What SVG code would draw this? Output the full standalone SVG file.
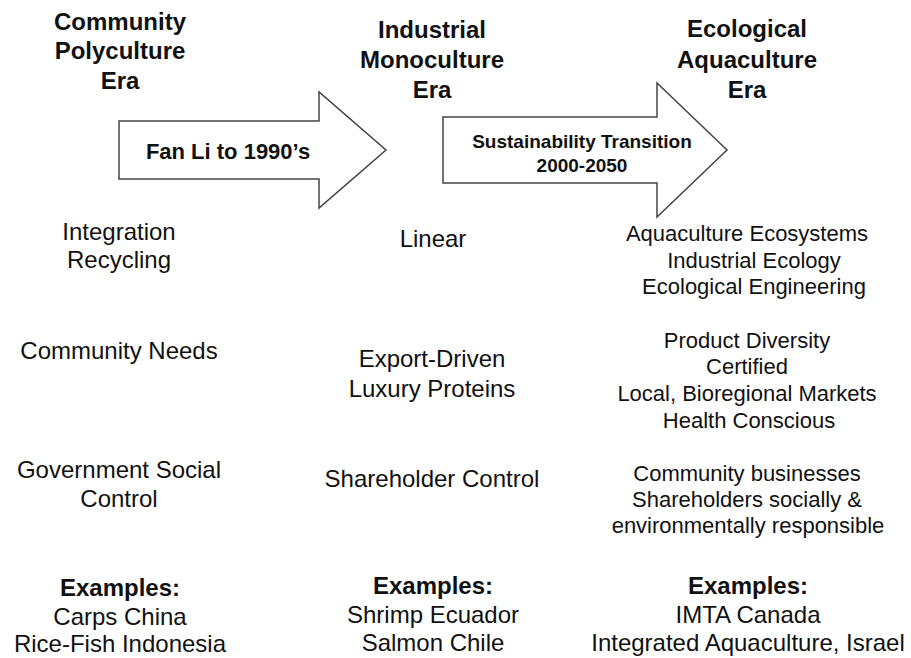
<svg xmlns="http://www.w3.org/2000/svg" width="911" height="658" viewBox="0 0 911 658">
<style>
text{font-family:"Liberation Sans",Arial,sans-serif;fill:#111;text-anchor:middle}
.h{font-weight:bold;font-size:24px}
.r{font-size:24px}
.s{font-size:22px}
.b{font-weight:bold}
.arrow{fill:#fff;stroke:#444;stroke-width:1.5;stroke-linejoin:miter}
</style>
<rect width="911" height="658" fill="#fff"/>
<g id="connectors">
  <g id="arrow1">
    <polygon class="arrow" points="119,121 319,121 319,92 386,150 319,208 319,179 119,179"/>
    <text class="b" x="228" y="159" style="font-size:22px">Fan Li to 1990’s</text>
  </g>
  <g id="arrow2">
    <polygon class="arrow" points="443,117 657,117 657,83 727,150 657,217 657,183 443,183"/>
    <text class="b" x="582" y="148" style="font-size:19px">Sustainability Transition</text>
    <text class="b" x="582" y="172" style="font-size:19px">2000-2050</text>
  </g>
</g>
<g id="era-community">
  <text class="h" x="120" y="30">Community</text>
  <text class="h" x="120" y="59">Polyculture</text>
  <text class="h" x="120" y="89">Era</text>
</g>
<g id="era-industrial">
  <text class="h" x="432" y="38">Industrial</text>
  <text class="h" x="432" y="68">Monoculture</text>
  <text class="h" x="432" y="98">Era</text>
</g>
<g id="era-ecological">
  <text class="h" x="747" y="37">Ecological</text>
  <text class="h" x="747" y="68">Aquaculture</text>
  <text class="h" x="747" y="98">Era</text>
</g>
<g id="c1-process">
  <text class="r" x="119" y="240">Integration</text>
  <text class="r" x="119" y="268">Recycling</text>
</g>
<g id="c1-market">
  <text class="r" x="119" y="359">Community Needs</text>
</g>
<g id="c1-control">
  <text class="r" x="119" y="478">Government Social</text>
  <text class="r" x="119" y="507">Control</text>
</g>
<g id="c1-examples">
  <text class="h" x="120" y="596">Examples:</text>
  <text class="r" x="120" y="625">Carps China</text>
  <text class="r" x="120" y="652">Rice-Fish Indonesia</text>
</g>
<g id="c2-process">
  <text class="r" x="433" y="247">Linear</text>
</g>
<g id="c2-market">
  <text class="r" x="432" y="367">Export-Driven</text>
  <text class="r" x="432" y="397">Luxury Proteins</text>
</g>
<g id="c2-control">
  <text class="r" x="432" y="487">Shareholder Control</text>
</g>
<g id="c2-examples">
  <text class="h" x="433" y="594">Examples:</text>
  <text class="r" x="433" y="623">Shrimp Ecuador</text>
  <text class="r" x="433" y="651">Salmon Chile</text>
</g>
<g id="c3-process">
  <text class="s" x="747" y="241">Aquaculture Ecosystems</text>
  <text class="s" x="754" y="268">Industrial Ecology</text>
  <text class="s" x="754" y="294">Ecological Engineering</text>
</g>
<g id="c3-market">
  <text class="s" x="747" y="348">Product Diversity</text>
  <text class="s" x="747" y="374">Certified</text>
  <text class="s" x="747" y="401">Local, Bioregional Markets</text>
  <text class="s" x="749" y="428">Health Conscious</text>
</g>
<g id="c3-control">
  <text class="s" x="747" y="481">Community businesses</text>
  <text class="s" x="747" y="507">Shareholders socially &amp;</text>
  <text class="s" x="748" y="533">environmentally responsible</text>
</g>
<g id="c3-examples">
  <text class="h" x="748" y="594">Examples:</text>
  <text class="r" x="748" y="623">IMTA Canada</text>
  <text class="r" x="748" y="651">Integrated Aquaculture, Israel</text>
</g>
</svg>
